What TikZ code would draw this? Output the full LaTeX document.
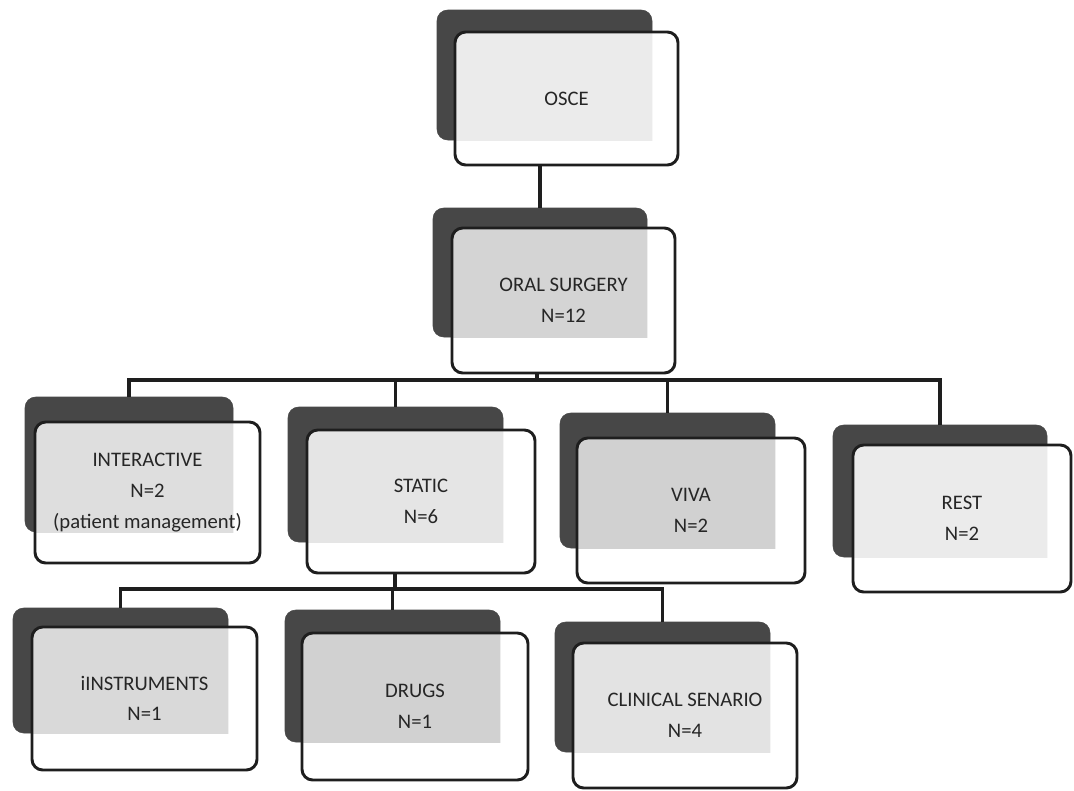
\documentclass[tikz,border=0pt]{standalone}
\usepackage{fontspec}
\setmainfont{Carlito}
\usetikzlibrary{calc}
\definecolor{backgray}{HTML}{474747}
\definecolor{edge}{HTML}{1E1E1E}
\definecolor{ink}{HTML}{262626}
\tikzset{
  backbox/.style={draw=backgray, fill=backgray, rounded corners=8pt, inner sep=0pt},
  frontbox/.style={draw=edge, line width=2.2pt, rounded corners=8pt, inner sep=0pt,
    align=center, text=ink, font=\fontsize{15.5}{23}\selectfont},
  conn/.style={draw=edge, line width=2.6pt}
}
% #1 name, #2 front centre, #3 front w, #4 front h, #5 back centre, #6 back w, #7 back h, #8 grey %, #9 text
\newcommand\cardbox[9]{%
  \node[backbox, minimum width=#6*0.75pt, minimum height=#7*0.75pt] (#1-b) at (#5) {};
  \fill[white, rounded corners=8pt] ($(#2)+(-#3/2,-#4/2)$) rectangle ($(#2)+(#3/2,#4/2)$);
  \begin{scope}
    \clip (#1-b.south west) rectangle (#1-b.north east);
    \fill[black!#8, rounded corners=8pt] ($(#2)+(-#3/2,-#4/2)$) rectangle ($(#2)+(#3/2,#4/2)$);
  \end{scope}
  \node[frontbox, minimum width=#3*0.75pt, minimum height=#4*0.75pt] (#1) at (#2) {#9};
}
\begin{document}
\begin{tikzpicture}[x=0.75pt, y=-0.75pt]
\useasboundingbox[fill=white] (0,0) rectangle (1074,790);

\cardbox{osce}{566.5,98.5}{223}{133}{544.5,75}{215}{130}{8}{OSCE}
\cardbox{oral}{563.5,300.5}{223}{145}{540,272.5}{214}{129}{17}{ORAL SURGERY\\N=12}
\cardbox{inter}{147.5,492.5}{225}{141}{129,464.5}{208}{135}{13}{INTERACTIVE\\N=2\\(patient management)}
\cardbox{static}{421,501.5}{228}{143}{395.5,474.5}{215}{135}{10}{STATIC\\N=6}
\cardbox{viva}{691,510.5}{228}{145}{667.5,480.5}{215}{135}{18}{VIVA\\N=2}
\cardbox{rest}{962,518.5}{218}{147}{940,491}{214}{132}{8}{REST\\N=2}
\cardbox{instr}{144.5,698.5}{225}{143}{120.5,670.5}{215}{125}{15}{iINSTRUMENTS\\N=1}
\cardbox{drugs}{415,706.5}{226}{147}{392.5,676}{215}{132}{18}{DRUGS\\N=1}
\cardbox{clin}{685,715.5}{224}{145}{662.5,687}{215}{130}{11}{CLINICAL SENARIO\\N=4}

% connectors
\coordinate (bar1) at (537,380);
\coordinate (bar2) at (395,589);
\draw[conn] (oral-b.north |- osce.south) -- (oral-b.north);
\draw[conn] (bar1 |- oral.south) -- (bar1);
\draw[conn] (inter-b.north) |- (bar1) -| (rest-b.north);
\draw[conn] (static-b.north |- bar1) -- (static-b.north);
\draw[conn] (viva-b.north |- bar1) -- (viva-b.north);
\draw[conn] (bar2 |- static.south) -- (bar2);
\draw[conn] (instr-b.north) |- (bar2) -| (clin-b.north);
\draw[conn] (drugs-b.north |- bar2) -- (drugs-b.north);
\end{tikzpicture}
\end{document}
